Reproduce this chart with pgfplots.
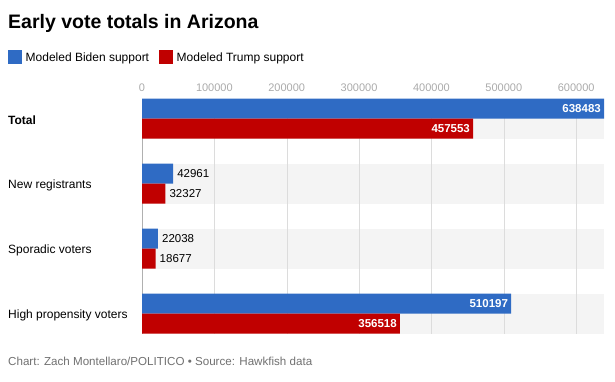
\documentclass[border=0pt]{standalone}
\usepackage{fontspec}
\setmainfont{Liberation Sans}
\usepackage{pgfplots}
\pgfplotsset{compat=1.18}
\definecolor{biden}{HTML}{2F6BC4}
\definecolor{trump}{HTML}{C00000}
\definecolor{band}{HTML}{F4F4F4}
\definecolor{gridc}{HTML}{DCDCDC}
\definecolor{zeroc}{HTML}{B0B0B0}
\definecolor{tickc}{HTML}{AAAAAA}
\definecolor{footc}{HTML}{707070}
\begin{document}
\begin{tikzpicture}[x=1pt,y=1pt]
\useasboundingbox (0,0) rectangle (615,-381);
\node[anchor=base west, font=\fontsize{19.5}{22}\selectfont\bfseries, inner sep=0] at (8,-28) {Early vote totals in Arizona};
\fill[biden] (8,-50) rectangle (22,-64);
\node[anchor=base west, font=\fontsize{12}{14}\selectfont, inner sep=0] at (25.5,-61.3) {Modeled Biden support};
\fill[trump] (159,-50) rectangle (173,-64);
\node[anchor=base west, font=\fontsize{12}{14}\selectfont, inner sep=0] at (176.5,-61.3) {Modeled Trump support};
\node[anchor=base west, font=\fontsize{11.6}{14}\selectfont, inner sep=0, text=footc] at (8,-365.5) {Chart: Zach Montellaro/POLITICO \textbullet{} Source: Hawkfish data};
% background bands
\fill[band] (142,-98.5) rectangle (604,-138.5);
\fill[band] (142,-163.5) rectangle (604,-203.5);
\fill[band] (142,-228.5) rectangle (604,-268.5);
\fill[band] (142,-293.5) rectangle (604,-333.5);
\begin{axis}[
  at={(142pt,-98.5pt)}, anchor=north west,
  scale only axis, width=462pt, height=235pt,
  xmin=0, xmax=638483, ymin=-0.3077, ymax=3.3077,
  axis line style={draw=none},
  xbar, bar width=20pt,
  xtick={0,100000,200000,300000,400000,500000,600000},
  xticklabel pos=upper,
  xticklabel={\pgfmathprintnumber[fixed,precision=0,1000 sep={},assume math mode=true]{\tick}},
  x tick label style={font=\fontsize{11}{13}\selectfont, text=tickc, yshift=3pt},
  scaled x ticks=false,
  xmajorgrids, major grid style={gridc},
  major tick length=0,
  ytick={0,1,2,3},
  yticklabels={High propensity voters, Sporadic voters, New registrants, \textbf{Total}},
  yticklabel style={anchor=west, inner sep=0, xshift=-134pt, yshift=-1.5pt, font=\fontsize{12}{14}\selectfont},
  extra x ticks={0}, extra x tick labels={},
  extra x tick style={grid=major, major grid style={draw=zeroc}},
  clip=false,
  nodes near coords={\pgfmathprintnumber[fixed,precision=0,1000 sep={},assume math mode=true]{\pgfplotspointmeta}},
]
% Biden, long bars (labels inside)
\addplot[draw=none, fill=biden, bar shift=10pt,
  nodes near coords style={anchor=east, text=white, font=\fontsize{11.5}{13}\selectfont\bfseries, inner sep=3pt}]
  coordinates {(638483,3) (510197,0)};
% Biden, short bars (labels outside)
\addplot[draw=none, fill=biden, bar shift=10pt,
  nodes near coords style={anchor=west, text=black, font=\fontsize{11.5}{13}\selectfont, inner sep=4pt}]
  coordinates {(42961,2) (22038,1)};
% Trump, long bars
\addplot[draw=none, fill=trump, bar shift=-10pt,
  nodes near coords style={anchor=east, text=white, font=\fontsize{11.5}{13}\selectfont\bfseries, inner sep=3pt}]
  coordinates {(457553,3) (356518,0)};
% Trump, short bars
\addplot[draw=none, fill=trump, bar shift=-10pt,
  nodes near coords style={anchor=west, text=black, font=\fontsize{11.5}{13}\selectfont, inner sep=4pt}]
  coordinates {(32327,2) (18677,1)};
\end{axis}
\end{tikzpicture}
\end{document}
